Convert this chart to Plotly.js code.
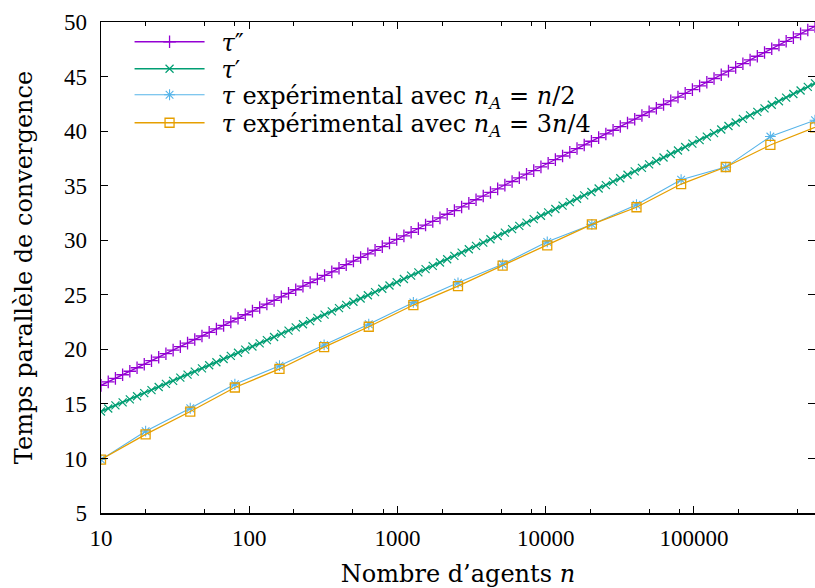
<!DOCTYPE html>
<html>
<head>
<meta charset="utf-8">
<script src="https://cdn.plot.ly/plotly-3.0.1.min.js"></script>
<style>html,body{margin:0;padding:0;background:#fff;}#chart{width:815px;height:588px;}</style>
</head>
<body>
<div id="chart"></div>
<script>
// Sampled n values for the theoretical curves (gnuplot-style sampling, 100 samples)
const nSamples = [10, 11.19, 12.51, 13.99, 15.65, 17.51, 19.58, 21.91, 24.50, 27.41,
  30.66, 34.29, 38.36, 42.90, 47.99, 53.68, 60.04, 67.16, 75.12, 84.02,
  93.98, 105.1, 117.6, 131.5, 147.1, 164.6, 184.1, 205.9, 230.3, 257.6,
  288.1, 322.3, 360.5, 403.2, 451.0, 504.5, 564.3, 631.2, 706.0, 789.7,
  883.3, 988.0, 1105, 1236, 1383, 1547, 1730, 1935, 2164, 2421,
  2708, 3029, 3388, 3789, 4239, 4741, 5303, 5932, 6635, 7421,
  8301, 9285, 10386, 11617, 12994, 14535, 16258, 18185, 20340, 22752,
  25449, 28466, 31840, 35615, 39836, 44559, 49840, 55749, 62358, 69749,
  78017, 87266, 97611, 109182, 122123, 136601, 152796, 170906, 191167, 213825,
  239178, 267531, 299241, 334713, 374396, 418776, 468416, 523940, 586056, 655360];

// tau'' values
const tauSecond = [16.70, 17.02, 17.34, 17.67, 17.99, 18.31, 18.63, 18.96, 19.28, 19.60,
  19.93, 20.25, 20.57, 20.90, 21.22, 21.55, 21.87, 22.20, 22.52, 22.85,
  23.17, 23.50, 23.83, 24.15, 24.48, 24.81, 25.13, 25.46, 25.79, 26.12,
  26.44, 26.77, 27.10, 27.43, 27.76, 28.09, 28.42, 28.75, 29.08, 29.41,
  29.74, 30.07, 30.40, 30.73, 31.06, 31.39, 31.72, 32.05, 32.38, 32.72,
  33.05, 33.38, 33.71, 34.05, 34.38, 34.71, 35.05, 35.38, 35.72, 36.05,
  36.38, 36.72, 37.05, 37.39, 37.72, 38.06, 38.40, 38.73, 39.07, 39.40,
  39.74, 40.08, 40.42, 40.75, 41.09, 41.43, 41.77, 42.10, 42.44, 42.78,
  43.12, 43.46, 43.80, 44.14, 44.48, 44.82, 45.16, 45.50, 45.84, 46.18,
  46.52, 46.86, 47.20, 47.55, 47.89, 48.23, 48.57, 48.91, 49.26, 49.60];

// tau' values
const tauPrime = [14.30, 14.58, 14.86, 15.14, 15.42, 15.70, 15.98, 16.26, 16.55, 16.83,
  17.11, 17.40, 17.68, 17.96, 18.25, 18.54, 18.82, 19.11, 19.40, 19.69,
  19.97, 20.26, 20.55, 20.84, 21.13, 21.42, 21.72, 22.01, 22.30, 22.59,
  22.89, 23.18, 23.48, 23.77, 24.07, 24.36, 24.66, 24.96, 25.25, 25.55,
  25.85, 26.15, 26.45, 26.75, 27.05, 27.35, 27.65, 27.96, 28.26, 28.56,
  28.87, 29.17, 29.48, 29.78, 30.09, 30.39, 30.70, 31.01, 31.32, 31.62,
  31.93, 32.24, 32.55, 32.86, 33.17, 33.49, 33.80, 34.11, 34.42, 34.74,
  35.05, 35.37, 35.68, 36.00, 36.31, 36.63, 36.95, 37.26, 37.58, 37.90,
  38.22, 38.54, 38.86, 39.18, 39.50, 39.82, 40.15, 40.47, 40.79, 41.12,
  41.44, 41.76, 42.09, 42.42, 42.74, 43.07, 43.40, 43.72, 44.05, 44.38];

// Experimental measurements
const nAgents = [10, 20, 40, 80, 160, 320, 640, 1280, 2560, 5120,
  10240, 20480, 40960, 81920, 163840, 327680, 655360];
const tauHalf = [9.9, 12.5, 14.6, 16.8, 18.5, 20.4, 22.3, 24.3, 26.1, 27.8,
  29.85, 31.45, 33.25, 35.55, 36.7, 39.5, 41.0];
const tauThreeQuarter = [9.9, 12.2, 14.3, 16.5, 18.2, 20.2, 22.07, 24.06, 25.8, 27.67,
  29.53, 31.46, 33.02, 35.15, 36.71, 38.73, 40.35];

const xTickVals = [10, 100, 1000, 10000, 100000];
const xTickText = ['10', '100', '1000', '10000', '100000'];
const xMinorVals = [20, 50, 80, 200, 500, 800, 2000, 5000, 8000, 20000, 50000, 80000, 200000, 500000];

const legendNames = [
  '\u2002<i>τ</i>\u2033',
  '\u2002<i>τ</i>\u2032',
  '\u2002<i>τ</i> expérimental avec <i>n</i><sub><i>A</i></sub> = <i>n</i>/2',
  '\u2002<i>τ</i> expérimental avec <i>n</i><sub><i>A</i></sub> = 3<i>n</i>/4'
];

const TICKFONT = 'Liberation Serif';
const TEXTFONT = 'DejaVu Serif';

const traces = [
  {x: nSamples, y: tauSecond, name: legendNames[0], legend: 'legend', mode: 'lines+markers', type: 'scatter',
   line: {color: '#9400d3', width: 1.3},
   marker: {symbol: 'cross-thin-open', size: 9, color: '#9400d3', line: {color: '#9400d3', width: 1.3}}},
  {x: nSamples, y: tauPrime, name: legendNames[1], legend: 'legend2', mode: 'lines+markers', type: 'scatter',
   line: {color: '#009e73', width: 1.7},
   marker: {symbol: 'x-thin-open', size: 8, color: '#009e73', line: {color: '#009e73', width: 1.2}}},
  {x: nAgents, y: tauHalf, name: legendNames[2], legend: 'legend3', mode: 'lines+markers', type: 'scatter',
   line: {color: '#56b4e9', width: 1.1},
   marker: {symbol: 'asterisk-open', size: 9, color: '#56b4e9', line: {color: '#56b4e9', width: 1.1}}},
  {x: nAgents, y: tauThreeQuarter, name: legendNames[3], legend: 'legend4', mode: 'lines+markers', type: 'scatter',
   line: {color: '#e69f00', width: 1.3},
   marker: {symbol: 'square-open', size: 9, color: '#e69f00', line: {color: '#e69f00', width: 1.3}}}
];

function legendAt(yPaper) {
  return {x: 0.04, y: yPaper, xanchor: 'left', yanchor: 'middle', bgcolor: 'rgba(0,0,0,0)',
          borderwidth: 0, font: {family: TEXTFONT, size: 24, color: '#000'}, itemwidth: 70};
}

const layout = {
  width: 815, height: 588,
  margin: {l: 101, r: 0, t: 22, b: 75, pad: 0},
  paper_bgcolor: '#ffffff', plot_bgcolor: '#ffffff',
  font: {family: TEXTFONT, size: 24, color: '#000000'},
  showlegend: true,
  legend: legendAt(0.959),
  legend2: legendAt(0.904),
  legend3: legendAt(0.851),
  legend4: legendAt(0.794),
  xaxis: {
    type: 'log', range: [1, 5.8165], autorange: false,
    tickmode: 'array', tickvals: xTickVals, ticktext: xTickText,
    ticks: 'inside', ticklen: 7, tickwidth: 1, tickcolor: '#000',
    showline: true, linecolor: '#000', linewidth: 1.5, mirror: 'ticks',
    showgrid: false, zeroline: false,
    tickfont: {family: TICKFONT, size: 23, color: '#000'},
    ticklabelstandoff: 4,
    minor: {tickmode: 'array', tickvals: xMinorVals, ticks: 'inside', ticklen: 4, tickcolor: '#000', tickwidth: 1, showgrid: false},
    title: {text: 'Nombre d\u2019agents <i>n</i>', font: {family: TEXTFONT, size: 24, color: '#000'}, standoff: 15}
  },
  yaxis: {
    range: [5, 50], autorange: false, tickmode: 'linear', tick0: 5, dtick: 5,
    ticks: 'inside', ticklen: 7, tickwidth: 1, tickcolor: '#000',
    showline: true, linecolor: '#000', linewidth: 1.5, mirror: 'ticks',
    showgrid: false, zeroline: false,
    tickfont: {family: TICKFONT, size: 23, color: '#000'},
    ticklabelstandoff: 8,
    title: {text: 'Temps parallèle de convergence', font: {family: TEXTFONT, size: 24, color: '#000'}, standoff: 24}
  }
};

Plotly.newPlot('chart', traces, layout, {displayModeBar: false, staticPlot: true});
</script>
</body>
</html>
